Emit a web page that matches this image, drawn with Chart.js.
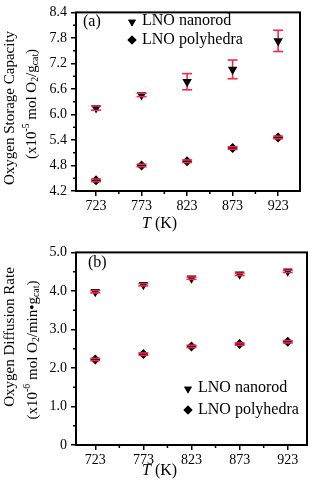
<!DOCTYPE html>
<html>
<head>
<meta charset="utf-8">
<script src="https://cdn.jsdelivr.net/npm/chart.js@4.4.1/dist/chart.umd.min.js"></script>
<style>
html, body { margin: 0; padding: 0; background: #fff; }
canvas { display: block; }
</style>
</head>
<body>
<canvas id="osc-chart" width="316" height="240"></canvas>
<canvas id="odr-chart" width="316" height="245"></canvas>
<script>
// --- DATA ---
const temps = [723, 773, 823, 873, 923];
const xTicks = [723, 773, 823, 873, 923];

// (a) oxygen storage capacity, x10^-5 mol O2/g_cat
const oscNanorod = [6.15, 6.46, 6.77, 7.06, 7.73];
const oscNanorodErr = [0.05, 0.04, 0.19, 0.22, 0.25];
const oscPoly = [4.45, 4.80, 4.90, 5.21, 5.46];
const oscPolyErr = [0.03, 0.03, 0.03, 0.03, 0.03];
const oscTicks = [4.2, 4.8, 5.4, 6.0, 6.6, 7.2, 7.8, 8.4];

// (b) oxygen diffusion rate, x10^-6 mol O2/min.g_cat
const odrNanorod = [3.98, 4.16, 4.33, 4.43, 4.51];
const odrNanorodErr = [0.03, 0.03, 0.03, 0.03, 0.03];
const odrPoly = [2.22, 2.36, 2.56, 2.62, 2.68];
const odrPolyErr = [0.03, 0.03, 0.03, 0.03, 0.03];
const odrTicks = [0, 1, 2, 3, 4, 5];

const FONT = "'Liberation Serif', 'DejaVu Serif', serif";
const ERR_RED = '#ee2a4c';

// draw text pieces with sub/superscripts in a row
function richText(ctx, parts, x, y, size, align) {
    let total = 0;
    parts.forEach(p => {
        ctx.font = `${p.s ? size * 0.65 : size}px ${FONT}`;
        total += ctx.measureText(p.t).width;
    });
    let cx = align === 'center' ? x - total / 2 : x;
    parts.forEach(p => {
        ctx.font = `${p.i ? 'italic ' : ''}${p.s ? size * 0.65 : size}px ${FONT}`;
        const dy = p.s === 'sup' ? -size * 0.35 : p.s === 'sub' ? size * 0.25 : 0;
        ctx.fillText(p.t, cx, y + dy);
        cx += ctx.measureText(p.t).width;
    });
}

// --- PLUGINS ---
const frame = {
    id: 'frame',
    afterDraw(chart) {
        const { ctx, chartArea: a, scales } = chart;
        ctx.save();
        ctx.strokeStyle = '#000';
        ctx.lineWidth = 2;
        ctx.strokeRect(a.left, a.top, a.right - a.left, a.bottom - a.top);
        // minor ticks
        ctx.lineWidth = 1.5;
        ctx.beginPath();
        for (let i = 0; i < xTicks.length - 1; i++) {
            const px = scales.x.getPixelForValue((xTicks[i] + xTicks[i + 1]) / 2);
            ctx.moveTo(px, a.bottom);
            ctx.lineTo(px, a.bottom + 3);
        }
        const yt = chart.options.yTickValues;
        for (let i = 0; i < yt.length - 1; i++) {
            const py = scales.y.getPixelForValue((yt[i] + yt[i + 1]) / 2);
            ctx.moveTo(a.left, py);
            ctx.lineTo(a.left - 3, py);
        }
        ctx.stroke();
        ctx.restore();
    }
};

const errorBars = {
    id: 'errorBars',
    beforeDatasetsDraw(chart) {
        const { ctx, scales } = chart;
        ctx.save();
        ctx.strokeStyle = ERR_RED;
        ctx.lineWidth = 1.6;
        chart.data.datasets.forEach(ds => {
            ds.data.forEach((pt, i) => {
                const px = scales.x.getPixelForValue(pt.x);
                ctx.beginPath();
                ctx.moveTo(px, scales.y.getPixelForValue(pt.y - ds.errors[i]));
                ctx.lineTo(px, scales.y.getPixelForValue(pt.y + ds.errors[i]));
                ctx.stroke();
            });
        });
        ctx.restore();
    },
    afterDatasetsDraw(chart) {
        const { ctx, scales } = chart;
        ctx.save();
        ctx.strokeStyle = ERR_RED;
        ctx.lineWidth = 1.6;
        chart.data.datasets.forEach(ds => {
            ds.data.forEach((pt, i) => {
                const px = scales.x.getPixelForValue(pt.x);
                [pt.y - ds.errors[i], pt.y + ds.errors[i]].forEach(v => {
                    const py = scales.y.getPixelForValue(v);
                    ctx.beginPath();
                    ctx.moveTo(px - 5, py);
                    ctx.lineTo(px + 5, py);
                    ctx.stroke();
                });
            });
        });
        ctx.restore();
    }
};

const labels = {
    id: 'labels',
    afterDraw(chart) {
        const { ctx } = chart;
        const o = chart.options.extra;
        ctx.save();
        ctx.fillStyle = '#000';
        ctx.textBaseline = 'middle';
        ctx.textAlign = 'left';

        // panel letter
        ctx.font = `16px ${FONT}`;
        ctx.fillText(o.letter, o.letterX, o.letterY);

        // legend
        Chart.helpers.drawPoint(ctx, { pointStyle: 'triangle', rotation: 180, radius: 4.5, borderWidth: 0 }, o.legX, o.legY1 + 1);
        ctx.fill();
        Chart.helpers.drawPoint(ctx, { pointStyle: 'rectRot', radius: 4.5, borderWidth: 0 }, o.legX, o.legY2);
        ctx.fill();
        ctx.font = `16px ${FONT}`;
        ctx.fillText('LNO nanorod', o.legX + 10, o.legY1);
        ctx.fillText('LNO polyhedra', o.legX + 10, o.legY2);

        // x title
        ctx.textBaseline = 'middle';
        richText(ctx, [{ t: 'T', i: true }, { t: ' (K)' }], 160, o.xTitleY, 16, 'center');

        // y title, rotated
        ctx.save();
        ctx.translate(o.yTitleX1, o.yTitleY1);
        ctx.rotate(-Math.PI / 2);
        richText(ctx, [{ t: o.yTitle1 }], 0, 0, 15, 'center');
        ctx.restore();
        ctx.save();
        ctx.translate(o.yTitleX2, o.yTitleY2);
        ctx.rotate(-Math.PI / 2);
        richText(ctx, o.yTitle2, 0, 0, 15, 'center');
        ctx.restore();
        ctx.restore();
    }
};

function makePanel(id, nanorod, nanorodErr, poly, polyErr, yTickValues, yFmt, geom, extra) {
    const ctx = document.getElementById(id).getContext('2d');
    return new Chart(ctx, {
        type: 'scatter',
        data: {
            datasets: [
                {
                    label: 'LNO nanorod',
                    data: temps.map((t, i) => ({ x: t, y: nanorod[i] })),
                    errors: nanorodErr,
                    pointStyle: 'triangle', rotation: 180, pointRadius: 5.5,
                    backgroundColor: '#000', borderColor: '#000', borderWidth: 0
                },
                {
                    label: 'LNO polyhedra',
                    data: temps.map((t, i) => ({ x: t, y: poly[i] })),
                    errors: polyErr,
                    pointStyle: 'rectRot', pointRadius: 5,
                    backgroundColor: '#000', borderColor: '#000', borderWidth: 0
                }
            ]
        },
        options: {
            responsive: false,
            animation: false,
            yTickValues: yTickValues,
            extra: extra,
            layout: { padding: { top: geom.top, right: geom.right, bottom: 0, left: 0 } },
            plugins: { legend: { display: false }, tooltip: { enabled: false } },
            scales: {
                x: {
                    type: 'linear', min: geom.xMin, max: geom.xMax,
                    afterBuildTicks: s => { s.ticks = xTicks.map(v => ({ value: v })); },
                    afterFit: s => { s.height = geom.xAxisH; },
                    grid: { display: true, drawOnChartArea: false, drawTicks: true, tickLength: 5, color: '#000', lineWidth: 1.5 },
                    border: { display: false },
                    ticks: { color: '#000', padding: 2, font: { family: FONT, size: 14 }, callback: v => String(v) }
                },
                y: {
                    type: 'linear', min: yTickValues[0], max: yTickValues[yTickValues.length - 1],
                    afterBuildTicks: s => { s.ticks = yTickValues.map(v => ({ value: v })); },
                    afterFit: s => { s.width = 76; },
                    grid: { display: true, drawOnChartArea: false, drawTicks: true, tickLength: 5, color: '#000', lineWidth: 1.5 },
                    border: { display: false },
                    ticks: { color: '#000', padding: 4, font: { family: FONT, size: 14 }, callback: yFmt }
                }
            }
        },
        plugins: [errorBars, frame, labels]
    });
}

// --- PANELS ---
makePanel('osc-chart', oscNanorod, oscNanorodErr, oscPoly, oscPolyErr, oscTicks,
    v => v.toFixed(1),
    { top: 6, right: 16, xAxisH: 49, xMin: 701, xMax: 947 },
    {
        letter: '(a)', letterX: 83, letterY: 22,
        legX: 132, legY1: 21, legY2: 40,
        xTitleY: 224,
        yTitle1: 'Oxygen Storage Capacity', yTitleX1: 10, yTitleY1: 108,
        yTitle2: [{ t: '(x10' }, { t: '-5', s: 'sup' }, { t: ' mol O' }, { t: '2', s: 'sub' }, { t: '/g' }, { t: 'cat', s: 'sub' }, { t: ')' }],
        yTitleX2: 32, yTitleY2: 104
    });

makePanel('odr-chart', odrNanorod, odrNanorodErr, odrPoly, odrPolyErr, odrTicks,
    v => v === 0 ? '0' : v.toFixed(1),
    { top: 7, right: 9, xAxisH: 40, xMin: 703, xMax: 943 },
    {
        letter: '(b)', letterX: 88, letterY: 23,
        legX: 188, legY1: 148, legY2: 170,
        xTitleY: 231,
        yTitle1: 'Oxygen Diffusion Rate', yTitleX1: 10, yTitleY1: 97,
        yTitle2: [{ t: '(x10' }, { t: '-6', s: 'sup' }, { t: ' mol O' }, { t: '2', s: 'sub' }, { t: '/min\u2022g' }, { t: 'cat', s: 'sub' }, { t: ')' }],
        yTitleX2: 33, yTitleY2: 110
    });
</script>
</body>
</html>
